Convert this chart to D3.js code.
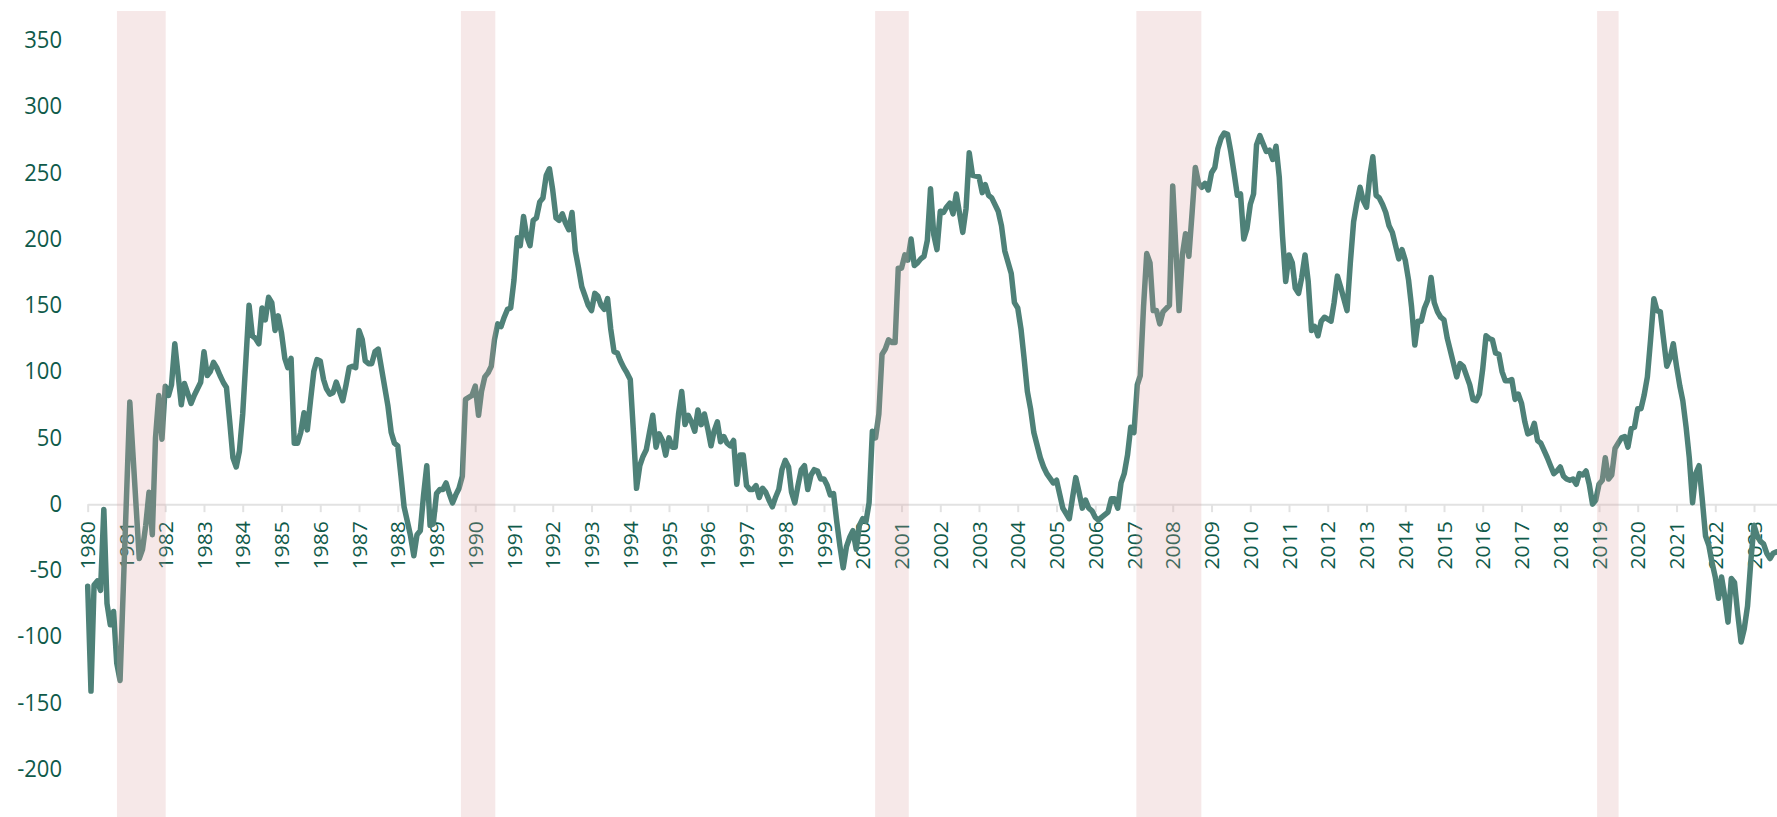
<!DOCTYPE html>
<html lang="en">
<head>
  <meta charset="UTF-8">
  <title>Chart</title>
  <script src="https://d3js.org/d3.v7.min.js"></script>
  <style>
    body { margin: 0; background: #fff; }
    svg text { font-family: 'Open Sans', sans-serif; }
  </style>
</head>
<body>
  <div class="canvas"></div>
  <script>
    const months = [
      '1980-01','1980-02','1980-03','1980-04','1980-05','1980-06','1980-07','1980-08','1980-09','1980-10','1980-11',
      '1981-02','1981-05','1981-06','1981-07','1981-08','1981-09','1981-10','1981-11','1981-12',
      '1982-01','1982-02','1982-03','1982-04','1982-06','1982-07','1982-09','1982-10','1982-12',
      '1983-01','1983-02','1983-03','1983-04','1983-05','1983-06','1983-07','1983-08','1983-09','1983-10','1983-11','1983-12',
      '1984-01','1984-02','1984-03','1984-04','1984-05','1984-06','1984-07','1984-08','1984-09','1984-10','1984-11','1984-12',
      '1985-01','1985-02','1985-03','1985-04','1985-05','1985-06','1985-07','1985-08','1985-09','1985-10','1985-11','1985-12',
      '1986-01','1986-02','1986-03','1986-04','1986-05','1986-06','1986-07','1986-08','1986-09','1986-10','1986-11','1986-12',
      '1987-01','1987-02','1987-03','1987-04','1987-05','1987-06','1987-07','1987-10','1987-11','1987-12',
      '1988-01','1988-02','1988-03','1988-04','1988-05','1988-06','1988-07','1988-08','1988-09','1988-10','1988-11','1988-12',
      '1989-01','1989-02','1989-03','1989-04','1989-05','1989-06','1989-07','1989-08','1989-09','1989-10','1989-12',
      '1990-01','1990-02','1990-03','1990-04','1990-05','1990-06','1990-07','1990-08','1990-09','1990-10','1990-11','1990-12',
      '1991-01','1991-02','1991-03','1991-04','1991-05','1991-06','1991-07','1991-08','1991-09','1991-10','1991-11','1991-12',
      '1992-01','1992-02','1992-03','1992-04','1992-05','1992-06','1992-07','1992-08','1992-09','1992-10','1992-11','1992-12',
      '1993-01','1993-02','1993-03','1993-04','1993-05','1993-06','1993-07','1993-08','1993-09','1993-10','1993-11','1993-12',
      '1994-01','1994-02','1994-03','1994-04','1994-05','1994-06','1994-07','1994-08','1994-09','1994-10','1994-11','1994-12',
      '1995-01','1995-02','1995-03','1995-04','1995-05','1995-06','1995-07','1995-08','1995-09','1995-10','1995-11','1995-12',
      '1996-01','1996-02','1996-03','1996-04','1996-05','1996-06','1996-07','1996-08','1996-09','1996-10','1996-11','1996-12',
      '1997-01','1997-02','1997-03','1997-04','1997-05','1997-06','1997-07','1997-08','1997-09','1997-10','1997-11','1997-12',
      '1998-01','1998-02','1998-03','1998-04','1998-05','1998-06','1998-07','1998-08','1998-09','1998-10','1998-11','1998-12',
      '1999-01','1999-02','1999-03','1999-04','1999-05','1999-06','1999-07','1999-08','1999-09','1999-10','1999-11','1999-12',
      '2000-01','2000-02','2000-03','2000-04','2000-05','2000-06','2000-07','2000-08','2000-09','2000-10','2000-11','2000-12',
      '2001-01','2001-02','2001-03','2001-04','2001-05','2001-06','2001-07','2001-08','2001-09','2001-10','2001-11','2001-12',
      '2002-01','2002-02','2002-03','2002-04','2002-05','2002-06','2002-08','2002-09','2002-10','2002-11',
      '2003-01','2003-02','2003-03','2003-04','2003-05','2003-07','2003-08','2003-09','2003-11','2003-12',
      '2004-01','2004-02','2004-03','2004-04','2004-05','2004-06','2004-08','2004-09','2004-10','2004-12',
      '2005-01','2005-02','2005-03','2005-05','2005-06','2005-07','2005-08','2005-09','2005-10','2005-11','2005-12',
      '2006-01','2006-02','2006-03','2006-05','2006-06','2006-07','2006-08','2006-09','2006-10','2006-11','2006-12',
      '2007-01','2007-02','2007-03','2007-04','2007-05','2007-06','2007-07','2007-08','2007-09','2007-10','2007-12',
      '2008-01','2008-02','2008-03','2008-04','2008-05','2008-06','2008-07','2008-08','2008-09','2008-10','2008-11','2008-12',
      '2009-01','2009-02','2009-03','2009-04','2009-05','2009-06','2009-07','2009-08','2009-09','2009-10','2009-11','2009-12',
      '2010-01','2010-02','2010-03','2010-04','2010-05','2010-06','2010-07','2010-08','2010-09','2010-10','2010-11','2010-12',
      '2011-01','2011-02','2011-03','2011-04','2011-05','2011-06','2011-07','2011-08','2011-09','2011-10','2011-11','2011-12',
      '2012-02','2012-03','2012-04','2012-05','2012-07','2012-08','2012-09','2012-10','2012-11','2012-12',
      '2013-01','2013-02','2013-03','2013-04','2013-05','2013-06','2013-07','2013-08','2013-09','2013-11','2013-12',
      '2014-01','2014-02','2014-03','2014-04','2014-05','2014-06','2014-07','2014-08','2014-09','2014-10','2014-11','2014-12',
      '2015-01','2015-02','2015-03','2015-05','2015-06','2015-07','2015-09','2015-10','2015-11','2015-12',
      '2016-01','2016-02','2016-03','2016-04','2016-05','2016-06','2016-07','2016-08','2016-09','2016-10','2016-11','2016-12',
      '2017-01','2017-02','2017-03','2017-04','2017-05','2017-06','2017-07','2017-09','2017-10','2017-11','2017-12',
      '2018-01','2018-02','2018-03','2018-04','2018-05','2018-06','2018-07','2018-08','2018-09','2018-10','2018-11','2018-12',
      '2019-01','2019-02','2019-03','2019-04','2019-05','2019-06','2019-07','2019-08','2019-09','2019-10','2019-11','2019-12',
      '2020-01','2020-02','2020-03','2020-04','2020-05','2020-06','2020-07','2020-08','2020-09','2020-10','2020-11','2020-12',
      '2021-01','2021-02','2021-03','2021-04','2021-05','2021-06','2021-07','2021-08','2021-09','2021-10','2021-11','2021-12',
      '2022-01','2022-02','2022-03','2022-04','2022-05','2022-06','2022-07','2022-08','2022-09','2022-10','2022-11','2022-12',
      '2023-01','2023-02','2023-03','2023-04','2023-05','2023-06','2023-07','2023-08'
    ];

    const values = [
      -62, -141, -61, -58, -65, -4, -75, -91, -81, -120, -133,
      77, -41, -34, -16, 9, -23, 50, 82, 49,
      89, 82, 90, 121, 75, 91, 76, 82, 92,
      115, 97, 100, 107, 103, 97, 92, 88, 62, 35, 28, 40,
      68, 110, 150, 127, 125, 121, 148, 139, 156, 152, 131, 142,
      129, 110, 103, 110, 46, 46, 54, 69, 56, 78, 100, 109,
      108, 94, 87, 83, 84, 92, 85, 78, 90, 103, 104, 103,
      131, 124, 108, 106, 106, 115, 117, 74, 54, 46,
      44, 21, -2, -13, -24, -39, -23, -20, 7, 29, -16, -15,
      8, 11, 11, 16, 8, 1, 7, 12, 21, 79, 82,
      89, 67, 85, 96, 99, 104, 124, 136, 134, 141, 147, 148,
      169, 201, 195, 217, 202, 195, 214, 216, 228, 231, 248, 253,
      237, 216, 214, 219, 212, 207, 220, 191, 178, 164, 157, 150,
      146, 159, 157, 150, 147, 155, 132, 115, 114, 108, 103, 99,
      94, 53, 12, 29, 36, 41, 54, 67, 43, 53, 48, 37,
      50, 43, 43, 68, 85, 60, 67, 62, 55, 71, 60, 68,
      57, 44, 55, 62, 47, 51, 46, 44, 48, 15, 37, 37,
      14, 11, 11, 14, 5, 12, 9, 3, -2, 5, 11, 26,
      33, 28, 9, 1, 14, 26, 29, 11, 22, 26, 25, 19,
      19, 14, 7, 8, -13, -32, -48, -32, -25, -20, -34, -16,
      -11, -13, 1, 55, 50, 68, 113, 117, 124, 122, 122, 178,
      178, 188, 184, 200, 180, 182, 185, 187, 199, 238, 203, 192,
      221, 220, 224, 227, 219, 234, 205, 223, 265, 248,
      247, 235, 241, 233, 231, 221, 210, 191, 174, 152,
      148, 132, 110, 85, 72, 54, 35, 28, 23, 16,
      18, 7, -3, -11, 5, 20, 9, -3, 3, -3, -5,
      -10, -12, -10, -6, 4, 4, -3, 16, 23, 37, 58,
      54, 90, 97, 149, 189, 182, 146, 146, 136, 145, 150,
      240, 191, 146, 188, 204, 187, 219, 254, 242, 239, 242, 237,
      250, 254, 268, 276, 280, 279, 266, 250, 233, 234, 200, 208,
      226, 234, 271, 278, 272, 266, 267, 260, 270, 247, 202, 168,
      188, 182, 163, 159, 171, 188, 168, 131, 134, 127, 138, 141,
      138, 152, 172, 164, 146, 182, 213, 227, 239, 229,
      224, 248, 262, 233, 231, 226, 220, 210, 205, 185, 192,
      184, 169, 149, 120, 138, 138, 148, 154, 171, 152, 145, 141,
      139, 125, 116, 96, 106, 104, 90, 79, 78, 83,
      102, 127, 125, 124, 114, 113, 100, 93, 93, 94, 79, 83,
      76, 62, 53, 54, 61, 48, 46, 35, 29, 23, 25,
      28, 21, 19, 18, 19, 15, 23, 22, 25, 15, 0, 3,
      15, 18, 35, 19, 22, 42, 46, 50, 51, 43, 57, 58,
      72, 72, 82, 96, 124, 155, 146, 145, 124, 104, 110, 121,
      104, 89, 78, 58, 35, 1, 23, 29, 3, -24, -31, -44,
      -55, -71, -55, -70, -89, -56, -59, -83, -104, -94, -77, -44,
      -16, -24, -28, -30, -37, -41, -37, -36
    ];

    const yTicks = [-200, -150, -100, -50, 0, 50, 100, 150, 200, 250, 300, 350];

    // shaded periods
    const bandStarts = ['1980-10-03', '1989-08-19', '2000-04-27', '2007-01-23', '2018-12-14'];
    const bandEnds   = ['1982-01-05', '1990-07-09', '2001-03-10', '2008-09-27', '2019-07-05'];

    const width = 1777, height = 817;
    const textColor = '#0f5a4a';
    const lineColor = '#4e8178';

    const parseMonth = d3.timeParse('%Y-%m');
    const parseDay = d3.timeParse('%Y-%m-%d');

    const data = months.map((m, i) => ({ date: parseMonth(m), value: values[i] }));
    const bands = bandStarts.map((s, i) => ({ start: parseDay(s), end: parseDay(bandEnds[i]) }));

    const svg = d3.select('.canvas')
      .append('svg')
      .attr('width', width)
      .attr('height', height);

    const x = d3.scaleTime()
      .domain([new Date(1980, 0, 1), new Date(2023, 7, 1)])
      .range([87.7, 1776.5]);

    const y = d3.scaleLinear()
      .domain([-236, 372])
      .range([height, 11]);

    // y axis: labels only, plain hyphen for negatives
    const yAxis = svg.append('g')
      .attr('transform', 'translate(62,0)')
      .call(d3.axisLeft(y)
        .tickValues(yTicks)
        .tickFormat(d => String(d))
        .tickSize(0)
        .tickPadding(0));
    yAxis.select('.domain').remove();
    yAxis.selectAll('text')
      .attr('fill', textColor)
      .attr('dy', '0.3em')
      .attr('transform', 'scale(1,1.1)')
      .style('font-size', '22px');

    // x axis sits on the zero line
    const xAxis = svg.append('g')
      .attr('transform', `translate(0,${y(0)})`)
      .call(d3.axisBottom(x)
        .ticks(d3.timeYear.every(1))
        .tickFormat(d3.timeFormat('%Y'))
        .tickSize(8)
        .tickSizeOuter(0));
    xAxis.select('.domain')
      .attr('stroke', '#e2e2e2')
      .attr('stroke-width', 2);
    xAxis.selectAll('.tick line')
      .attr('stroke', '#e2e2e2')
      .attr('stroke-width', 2);
    xAxis.selectAll('.tick text')
      .attr('fill', textColor)
      .style('font-size', '20px')
      .attr('transform', 'rotate(-90) scale(1.06,1)')
      .attr('x', -16)
      .attr('y', 0)
      .attr('dy', '0.36em')
      .style('text-anchor', 'end');

    const line = d3.line()
      .x(d => x(d.date))
      .y(d => y(d.value));

    svg.append('path')
      .datum(data)
      .attr('fill', 'none')
      .attr('stroke', lineColor)
      .attr('stroke-width', 5.5)
      .attr('stroke-linejoin', 'round')
      .attr('stroke-linecap', 'round')
      .attr('d', line);

    // bands are laid over the line, semi transparent
    svg.append('g')
      .selectAll('rect')
      .data(bands)
      .enter()
      .append('rect')
      .attr('x', d => x(d.start))
      .attr('width', d => x(d.end) - x(d.start))
      .attr('y', 11)
      .attr('height', height - 11)
      .attr('fill', 'rgb(217,158,158)')
      .attr('fill-opacity', 0.24);
  </script>
</body>
</html>
